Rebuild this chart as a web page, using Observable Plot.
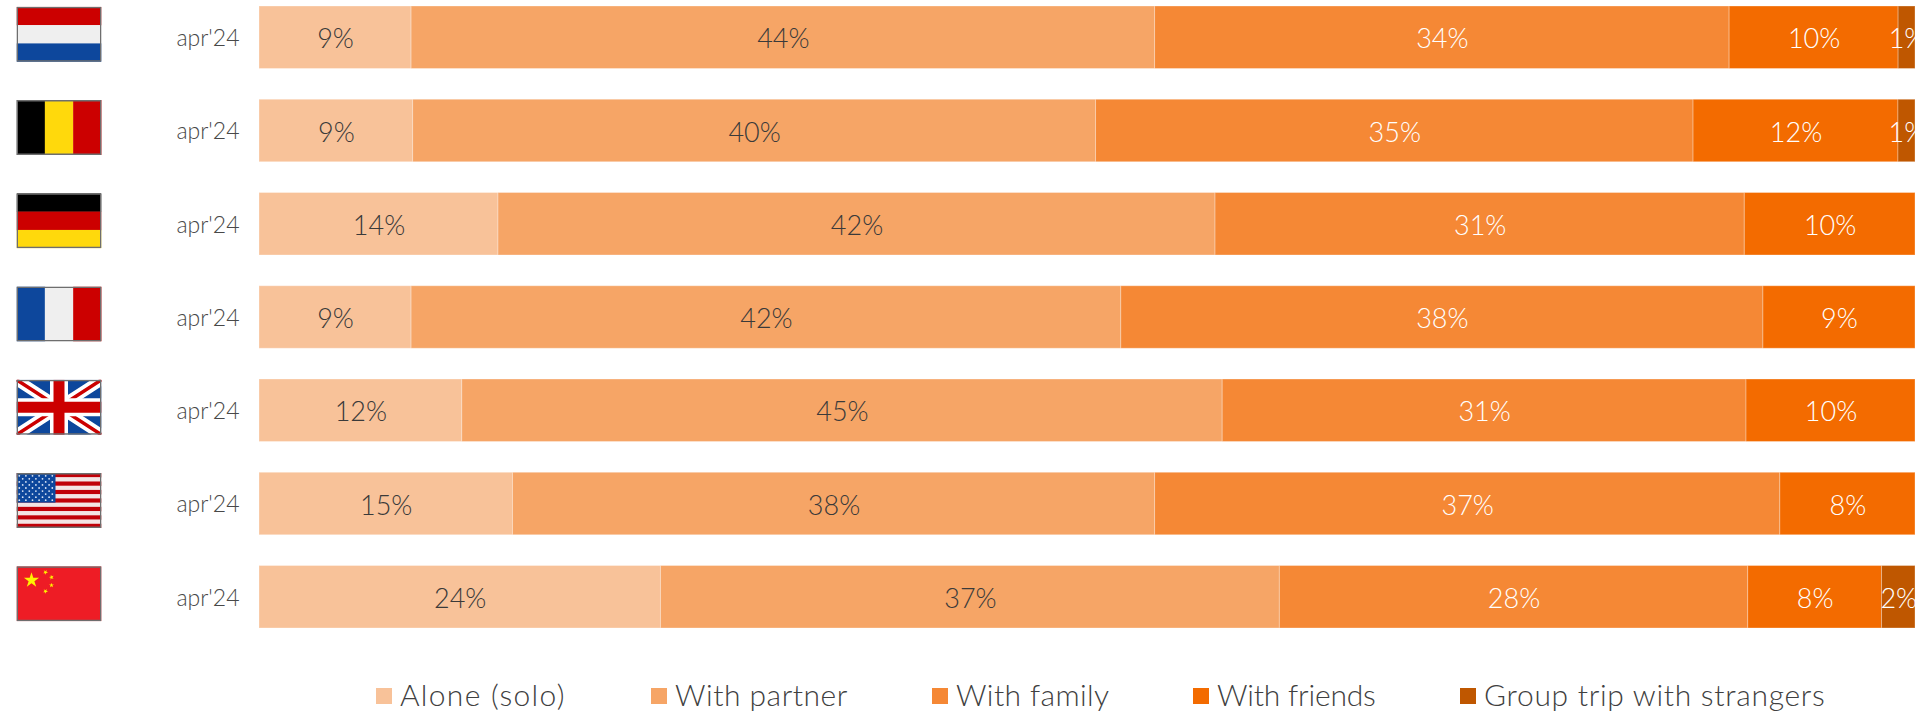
<!DOCTYPE html>
<html>
<head>
<meta charset="utf-8">
<script src="https://cdn.jsdelivr.net/npm/d3@7"></script>
<script src="https://cdn.jsdelivr.net/npm/@observablehq/plot@0.6"></script>
<style>
html,body{margin:0;padding:0;background:#fff;}
#wrap{position:relative;width:1926px;height:712px;overflow:hidden;font-family:Lato,"Open Sans",sans-serif;font-weight:300;}
#legend{position:absolute;left:0;top:660px;width:1926px;height:52px;}
.item{position:absolute;top:16px;height:36px;line-height:36px;font-size:30px;color:#404040;white-space:nowrap;}
.sw{position:absolute;top:12px;left:0;width:16px;height:16px;}
.lab{position:absolute;left:24px;top:0;line-height:36px;}
</style>
</head>
<body>
<div id="wrap"><div id="chart"></div><div id="legend"></div></div>
<script>
const countries = ["Netherlands","Belgium","Germany","France","United Kingdom","United States","China"];
const period = "apr'24";
const seriesNames = ["Alone (solo)","With partner","With family","With friends","Group trip with strangers"];
const seriesColors = ["#F8C299","#F6A566","#F58835","#F36B00","#BF5700"];
const alone   = [9, 9, 14, 9, 12, 15, 24];
const partner = [44, 40, 42, 42, 45, 38, 37];
const family  = [34, 35, 31, 38, 31, 37, 28];
const friends = [10, 12, 10, 9, 10, 8, 8];
const group   = [1, 1, 0, 0, 0, 0, 2];
const seriesValues = [alone, partner, family, friends, group];
const legendLeft = [376, 651, 932, 1193, 1460];
const legendSpacing = [1.3, 0.5, 0.4, -0.2, 0.7];

const rows = [];
countries.forEach((c,i)=>seriesValues.forEach((vals,s)=>{
  if (vals[i] > 0) rows.push({country:c, series:seriesNames[s], idx:s, value:vals[i]});
}));

// flag artwork
const W=85,H=55;
const R="#CC0000",Wh="#EFEFEF",B="#0D479C",Y="#FFD90C",K="#000";
const frame=`<rect x=".75" y=".75" width="${W-1.5}" height="${H-1.5}" fill="none" stroke="#6e6e6e" stroke-width="1.5"/>`;
const wrapSvg=s=>"data:image/svg+xml,"+encodeURIComponent(`<svg xmlns="http://www.w3.org/2000/svg" width="${W}" height="${H}" viewBox="0 0 ${W} ${H}">${s}${frame}</svg>`);
const hbands=cs=>cs.map((c,i)=>`<rect x="0" y="${i*H/cs.length}" width="${W}" height="${H/cs.length+.3}" fill="${c}"/>`).join("");
const vbands=cs=>cs.map((c,i)=>`<rect x="${i*W/cs.length}" y="0" width="${W/cs.length+.3}" height="${H}" fill="${c}"/>`).join("");
const star=(cx,cy,r,rot=0,fill="#FFF200")=>{
  const p=[];for(let i=0;i<10;i++){const a=rot-Math.PI/2+i*Math.PI/5,q=i%2?r*.382:r;p.push((cx+q*Math.cos(a)).toFixed(2)+","+(cy+q*Math.sin(a)).toFixed(2));}
  return `<polygon points="${p.join(" ")}" fill="${fill}"/>`;
};
const uk=`<rect width="${W}" height="${H}" fill="${B}"/>
<path d="M0 0L${W} ${H}M${W} 0L0 ${H}" stroke="#fff" stroke-width="11"/>
<path d="M0 0L${W} ${H}M${W} 0L0 ${H}" stroke="${R}" stroke-width="3.5"/>
<path d="M${W/2} 0V${H}M0 ${H/2}H${W}" stroke="#fff" stroke-width="18"/>
<path d="M${W/2} 0V${H}M0 ${H/2}H${W}" stroke="${R}" stroke-width="11"/>`;
let us=hbands(Array.from({length:13},(_,i)=>i%2?"#F3E4E4":"#C00008"));
us+=`<rect x="0" y="0" width="39" height="${H*7/13}" fill="${B}"/>`;
for(let r=0;r<9;r++)for(let c=0;c<(r%2?5:6);c++){
  us+=`<circle cx="${(r%2?6.2:2.8)+c*6.6}" cy="${2.8+r*3.05}" r="0.9" fill="#DDE6F5"/>`;
}
const cn=`<rect width="${W}" height="${H}" fill="#EE1C25"/>`+star(15,14,8)+star(29,6,2.6,.5)+star(35,11,2.6,1)+star(35,19,2.6,0)+star(29,25,2.6,.5);
const flags={
  "Netherlands":wrapSvg(hbands([R,Wh,B])),
  "Belgium":wrapSvg(vbands([K,Y,R])),
  "Germany":wrapSvg(hbands([K,R,Y])),
  "France":wrapSvg(vbands([B,Wh,R])),
  "United Kingdom":wrapSvg(uk),
  "United States":wrapSvg(us),
  "China":wrapSvg(cn)
};

const stackOpts={x:"value",y:"country",z:"series",order:null,offset:"normalize"};
const chart=Plot.plot({
  width:1926,height:660,
  marginLeft:259,marginRight:11,marginTop:6,marginBottom:32,
  style:{fontFamily:"Lato,'Open Sans',sans-serif",fontWeight:300,background:"transparent",overflow:"visible"},
  x:{axis:null,domain:[0,1]},
  y:{domain:countries,axis:null,paddingInner:0.33,paddingOuter:0,round:false},
  color:{domain:seriesNames,range:seriesColors},
  marks:[
    Plot.barX(rows,Plot.stackX({...stackOpts,fill:"series",stroke:"#fff",strokeOpacity:0.3,strokeWidth:1,inset:0})),
    Plot.text(rows,Plot.stackX({...stackOpts,text:d=>d.idx<2?d.value+"%":null,fill:"#3a3a3a",fontSize:27,dy:2,clip:true})),
    Plot.text(rows,Plot.stackX({...stackOpts,text:d=>d.idx>=2?d.value+"%":null,fill:"#fff",fontSize:27,dy:2,clip:true})),
    Plot.axisY(countries,{anchor:"left",tickSize:0,tickPadding:20,tickFormat:()=>period,fontSize:23,color:"#484848",label:null,fontWeight:300,dy:1}),
    Plot.image(countries,{y:d=>d,src:d=>flags[d],width:W,height:H,frameAnchor:"left",dx:-200.5,dy:-3.5})
  ]
});
document.getElementById("chart").appendChild(chart);

const legend=document.getElementById("legend");
seriesNames.forEach((n,i)=>{
  const it=document.createElement("div");it.className="item";it.style.left=legendLeft[i]+"px";
  const sw=document.createElement("div");sw.className="sw";sw.style.background=seriesColors[i];
  const lab=document.createElement("span");lab.className="lab";lab.textContent=n;lab.style.letterSpacing=legendSpacing[i]+"px";
  it.append(sw,lab);legend.appendChild(it);
});
</script>
</body>
</html>
